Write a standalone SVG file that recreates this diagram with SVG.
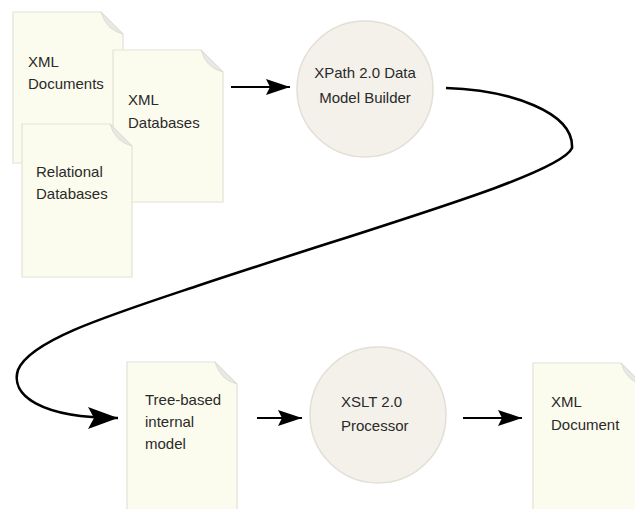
<svg xmlns="http://www.w3.org/2000/svg" width="635" height="509" viewBox="0 0 635 509">
<style>
.doc{fill:#fcfcee;stroke:#e2e2d8;stroke-width:1.2}
.fold{fill:#e8e8e4;stroke:#d8d8d2;stroke-width:0.8}
.circ{fill:#f3f1ea;stroke:#e2dfd6;stroke-width:1.5}
.t{font-family:"Liberation Sans",Arial,sans-serif;font-size:15px;fill:#2a2a2a}
.ln{fill:none;stroke:#000;stroke-width:2}
.cv{fill:none;stroke:#000;stroke-width:2.6}
</style>
<defs>
<marker id="ah" markerUnits="userSpaceOnUse" markerWidth="26" markerHeight="18" refX="24" refY="9" orient="auto">
<path d="M0,1 L24,9 L0,17 L4,9 Z" fill="#000"/>
</marker>
<marker id="ahb" markerUnits="userSpaceOnUse" markerWidth="32" markerHeight="24" refX="30" refY="12" orient="auto">
<path d="M0,1 L30,12 L0,23 L6,12 Z" fill="#000"/>
</marker>
</defs>
<g id="doc-xml-documents">
<path class="doc" d="M13,12 H101 L123,34 V163 H13 Z"/>
<path class="fold" d="M101,12 Q106,30 123,34 Z"/>
<text class="t" x="28" y="67">XML</text>
<text class="t" x="28" y="89">Documents</text>
</g>
<g id="doc-xml-databases">
<path class="doc" d="M113,50 H201 L223,72 V202 H113 Z"/>
<path class="fold" d="M201,50 Q206,68 223,72 Z"/>
<text class="t" x="128" y="105">XML</text>
<text class="t" x="128" y="128">Databases</text>
</g>
<g id="doc-relational-databases">
<path class="doc" d="M22,124 H110 L132,146 V277 H22 Z"/>
<path class="fold" d="M110,124 Q115,142 132,146 Z"/>
<text class="t" x="36" y="177">Relational</text>
<text class="t" x="36" y="199">Databases</text>
</g>
<g id="xpath-builder">
<circle class="circ" cx="365" cy="89" r="68"/>
<text class="t" x="365" y="78" text-anchor="middle">XPath 2.0 Data</text>
<text class="t" x="365" y="103" text-anchor="middle">Model Builder</text>
</g>
<g id="doc-tree-model">
<path class="doc" d="M127,362 H215 L237,384 V520 H127 Z"/>
<path class="fold" d="M215,362 Q220,380 237,384 Z"/>
<text class="t" x="145" y="405">Tree-based</text>
<text class="t" x="145" y="427">internal</text>
<text class="t" x="145" y="449">model</text>
</g>
<g id="xslt-processor">
<circle class="circ" cx="378" cy="415" r="68"/>
<text class="t" x="341" y="407">XSLT 2.0</text>
<text class="t" x="341" y="431">Processor</text>
</g>
<g id="doc-xml-document">
<path class="doc" d="M533,363 H621 L643,385 V520 H533 Z"/>
<path class="fold" d="M621,363 Q626,381 643,385 Z"/>
<text class="t" x="551" y="407">XML</text>
<text class="t" x="551" y="430">Document</text>
</g>
<g id="connectors">
<line class="ln" x1="231" y1="87" x2="290" y2="87" marker-end="url(#ah)"/>
<path class="cv" d="M446,88 C510,90 574,112 572,148 C560,175 380,225 200,285 C110,315 30,340 18,370 C10,395 40,418 118,418" marker-end="url(#ahb)"/>
<line class="ln" x1="257" y1="418" x2="302" y2="418" marker-end="url(#ah)"/>
<line class="ln" x1="463" y1="418" x2="522" y2="418" marker-end="url(#ah)"/>
</g>
</svg>
